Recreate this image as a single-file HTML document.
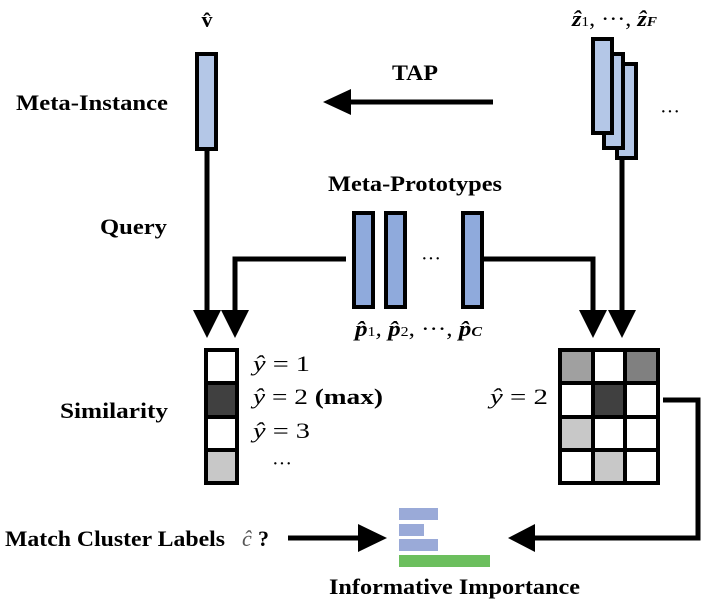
<!DOCTYPE html>
<html><head><meta charset="utf-8"><style>body{margin:0;background:#fff}svg{display:block}</style></head><body>
<svg width="717" height="604" viewBox="0 0 717 604" xmlns="http://www.w3.org/2000/svg" font-family="Liberation Serif, serif">
<g font-weight="bold" font-size="22" fill="#000">
<text x="16" y="110" textLength="152" lengthAdjust="spacingAndGlyphs">Meta-Instance</text>
<text x="100" y="234" textLength="67" lengthAdjust="spacingAndGlyphs">Query</text>
<text x="60" y="418" textLength="108" lengthAdjust="spacingAndGlyphs">Similarity</text>
<text x="5" y="546" textLength="220" lengthAdjust="spacingAndGlyphs">Match Cluster Labels</text>
<text x="392" y="80" textLength="46" lengthAdjust="spacingAndGlyphs">TAP</text>
<text x="328" y="191" textLength="174" lengthAdjust="spacingAndGlyphs">Meta-Prototypes</text>
<text x="329" y="594" textLength="251" lengthAdjust="spacingAndGlyphs">Informative Importance</text>
<text x="258" y="546">?</text>
</g>
<text x="242" y="546" font-size="22" font-style="italic" fill="#555">ĉ</text>
<text x="207" y="27" font-size="22" font-weight="bold" text-anchor="middle">v̂</text>
<text x="572" y="26" font-size="22" font-weight="bold" font-style="italic" textLength="85" lengthAdjust="spacingAndGlyphs">ẑ<tspan font-size="14" font-style="normal" font-weight="normal">1</tspan><tspan font-weight="normal" font-style="normal">, ···, </tspan>ẑ<tspan font-size="14">F</tspan></text>
<text x="355" y="336" font-size="22" font-weight="bold" font-style="italic" textLength="127" lengthAdjust="spacingAndGlyphs">p̂<tspan font-size="14" font-style="normal" font-weight="normal">1</tspan><tspan font-weight="normal">, </tspan>p̂<tspan font-size="14" font-style="normal" font-weight="normal">2</tspan><tspan font-weight="normal" font-style="normal">, ···, </tspan>p̂<tspan font-size="14">C</tspan></text>
<text x="660" y="118" font-size="20">···</text>
<text x="421" y="265" font-size="20">···</text>
<g fill="#b4c7e7" stroke="#000" stroke-width="4">
<rect x="197" y="54" width="19" height="95"/>
<rect x="617" y="64" width="19" height="94"/>
<rect x="604" y="54" width="19" height="94"/>
<rect x="593" y="39" width="19" height="94"/>
</g>
<g fill="#8faadc" stroke="#000" stroke-width="4">
<rect x="354" y="213" width="19" height="94"/>
<rect x="386" y="213" width="19" height="94"/>
<rect x="463" y="213" width="19" height="94"/>
</g>
<g stroke="#000" stroke-width="5" fill="none">
<line x1="207" y1="151" x2="207" y2="312"/>
<polyline points="346,259 235,259 235,312"/>
<polyline points="482,259 593,259 593,312"/>
<line x1="622" y1="160" x2="622" y2="312"/>
<line x1="350" y1="102" x2="493" y2="102"/>
<polyline points="663,400 698,400 698,538 533,538"/>
<line x1="288" y1="538" x2="360" y2="538"/>
</g>
<g fill="#000">
<polygon points="193,310 221,310 207,338"/>
<polygon points="221,310 249,310 235,338"/>
<polygon points="579,310 607,310 593,338"/>
<polygon points="608,310 636,310 622,338"/>
<polygon points="323,102 351,89 351,115"/>
<polygon points="387,538 358,524 358,552"/>
<polygon points="508,538 535,524 535,552"/>
</g>
<g stroke="#000" stroke-width="4">
<rect x="206" y="350" width="31" height="33" fill="#fff"/>
<rect x="206" y="383" width="31" height="34" fill="#404040"/>
<rect x="206" y="417" width="31" height="33" fill="#fff"/>
<rect x="206" y="450" width="31" height="33" fill="#c8c8c8"/>
</g>
<g stroke="#000" stroke-width="4">
<rect x="560" y="350" width="33" height="33" fill="#a0a0a0"/>
<rect x="593" y="350" width="32" height="33" fill="#fff"/>
<rect x="625" y="350" width="33" height="33" fill="#808080"/>
<rect x="560" y="383" width="33" height="34" fill="#fff"/>
<rect x="593" y="383" width="32" height="34" fill="#404040"/>
<rect x="625" y="383" width="33" height="34" fill="#fff"/>
<rect x="560" y="417" width="33" height="33" fill="#c8c8c8"/>
<rect x="593" y="417" width="32" height="33" fill="#fff"/>
<rect x="625" y="417" width="33" height="33" fill="#fff"/>
<rect x="560" y="450" width="33" height="33" fill="#fff"/>
<rect x="593" y="450" width="32" height="33" fill="#c8c8c8"/>
<rect x="625" y="450" width="33" height="33" fill="#fff"/>
</g>
<g font-size="22">
<text x="253" y="371" textLength="57" lengthAdjust="spacingAndGlyphs"><tspan font-style="italic">ŷ</tspan> = 1</text>
<text x="253" y="404" textLength="130" lengthAdjust="spacingAndGlyphs"><tspan font-style="italic">ŷ</tspan> = 2 <tspan font-weight="bold">(max)</tspan></text>
<text x="253" y="438" textLength="57" lengthAdjust="spacingAndGlyphs"><tspan font-style="italic">ŷ</tspan> = 3</text>
<text x="272" y="470" font-size="20">···</text>
<text x="490" y="404" textLength="58" lengthAdjust="spacingAndGlyphs"><tspan font-style="italic">ŷ</tspan> = 2</text>
</g>
<rect x="399" y="508" width="39" height="12" fill="#9aaad8"/>
<rect x="399" y="524" width="25" height="12" fill="#9aaad8"/>
<rect x="399" y="539" width="39" height="12" fill="#9aaad8"/>
<rect x="399" y="555" width="91" height="12" fill="#6cbf5e"/>
</svg>
</body></html>
